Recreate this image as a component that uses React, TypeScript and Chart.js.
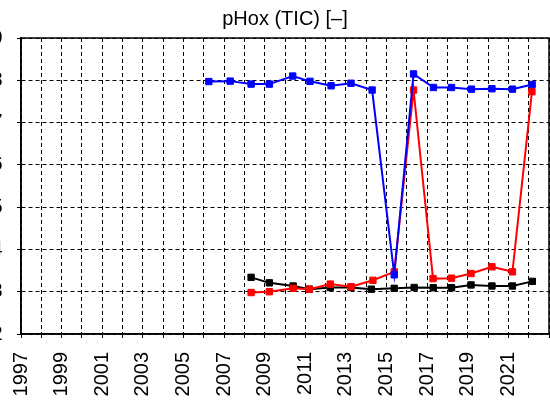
import React, { useEffect, useRef } from "react";
import { Chart, registerables } from "chart.js";

Chart.register(...registerables);

const TITLE = "pHox (TIC) [–]";

const blueYears = [2006.25, 2007.3, 2008.33, 2009.23, 2010.38, 2011.23, 2012.27, 2013.25, 2014.29, 2015.38, 2016.33, 2017.31, 2018.2, 2019.18, 2020.19, 2021.2, 2022.17];
const blueValues = [7.97, 7.98, 7.91, 7.91, 8.1, 7.975, 7.87, 7.93, 7.77, 3.4, 8.15, 7.83, 7.83, 7.79, 7.8, 7.79, 7.9];

const redYears = [2008.33, 2009.23, 2010.4, 2011.2, 2012.23, 2013.25, 2014.33, 2015.38, 2016.33, 2017.29, 2018.2, 2019.16, 2020.19, 2021.2, 2022.16];
const redValues = [2.98, 3.0, 3.08, 3.06, 3.18, 3.12, 3.27, 3.47, 7.77, 3.31, 3.32, 3.43, 3.59, 3.47, 7.73];

const blackYears = [2008.33, 2009.23, 2010.4, 2011.2, 2012.23, 2013.25, 2014.25, 2015.38, 2016.36, 2017.3, 2018.2, 2019.16, 2020.19, 2021.2, 2022.18];
const blackValues = [3.34, 3.21, 3.135, 3.06, 3.1, 3.1, 3.06, 3.08, 3.1, 3.095, 3.095, 3.16, 3.135, 3.135, 3.245];

const xTickLabels = [1997, 1999, 2001, 2003, 2005, 2007, 2009, 2011, 2013, 2015, 2017, 2019, 2021];

const X_MIN = 1997;
const X_MAX = 2023;
const Y_MIN = 2;
const Y_MAX = 9;

const CANVAS_OFFSET = -19;
const FONT = "Arial, 'Liberation Sans', sans-serif";

function pts(xs: number[], ys: number[]) {
  return xs.map((x, i) => ({ x, y: ys[i] }));
}

function ds(label: string, xs: number[], ys: number[], color: string) {
  return {
    label,
    data: pts(xs, ys),
    borderColor: color,
    backgroundColor: color,
    borderWidth: 2,
    pointStyle: "rect" as const,
    pointRadius: 4.5,
    pointBorderWidth: 1,
    pointBorderColor: color,
    pointBackgroundColor: color,
    tension: 0,
  };
}

const frame = {
  id: "frame",
  afterDraw(chart: any) {
    const { ctx, chartArea } = chart;
    ctx.save();
    ctx.strokeStyle = "#000";
    ctx.lineWidth = 1.5;
    ctx.setLineDash([]);
    ctx.strokeRect(chartArea.left, chartArea.top, chartArea.right - chartArea.left, chartArea.bottom - chartArea.top);
    ctx.restore();
  },
};

export default function App() {
  const ref = useRef<HTMLCanvasElement>(null);
  useEffect(() => {
    if (!ref.current) return;
    const chart = new Chart(ref.current, {
      type: "line",
      data: {
        datasets: [
          ds("blue", blueYears, blueValues, "#0000ff"),
          ds("red", redYears, redValues, "#ff0000"),
          ds("black", blackYears, blackValues, "#000000"),
        ],
      },
      options: {
        animation: false,
        responsive: false,
        layout: { padding: { left: 0, right: 32, top: 0, bottom: 0 } },
        plugins: {
          legend: { display: false },
          tooltip: { enabled: false },
          title: {
            display: true,
            text: TITLE,
            color: "#000",
            fullSize: false,
            font: { family: FONT, size: 20, weight: "normal" },
            padding: { top: 7, bottom: 7 },
          },
        },
        scales: {
          x: {
            type: "linear",
            min: X_MIN,
            max: X_MAX,
            afterFit: (s: any) => {
              s.height = 66;
              s.paddingLeft = 0;
              s.paddingRight = 0;
            },
            ticks: {
              stepSize: 1,
              autoSkip: false,
              minRotation: 90,
              maxRotation: 90,
              padding: 14,
              color: "#000",
              font: { family: FONT, size: 20 },
              callback: (v: any) => {
                const n = Number(v);
                return xTickLabels.includes(n) ? String(n) : "";
              },
            },
            grid: {
              color: "#000",
              lineWidth: 1,
              tickLength: 4,
              tickColor: "#000",
              tickWidth: 1,
              tickBorderDash: [],
            },
            border: { display: true, color: "#000", width: 1.5, dash: [4, 3] },
          },
          y: {
            type: "linear",
            min: Y_MIN,
            max: Y_MAX,
            afterFit: (s: any) => {
              s.width = 40;
              s.paddingTop = 0;
              s.paddingBottom = 0;
            },
            ticks: {
              stepSize: 1,
              padding: 14.5,
              color: "#000",
              font: { family: FONT, size: 20 },
              callback: (v: any) => String(v),
            },
            grid: {
              color: "#000",
              lineWidth: 1,
              tickLength: 4,
              tickColor: "#000",
              tickWidth: 1,
              tickBorderDash: [],
            },
            border: { display: true, color: "#000", width: 1.5, dash: [4, 3] },
          },
        },
      },
      plugins: [frame],
    });
    return () => chart.destroy();
  }, []);

  return (
    <div
      style={{
        position: "fixed",
        left: 0,
        top: 0,
        width: 550,
        height: 400,
        overflow: "hidden",
        background: "#fff",
      }}
    >
      <canvas
        ref={ref}
        width={600}
        height={400}
        style={{ position: "absolute", left: CANVAS_OFFSET, top: 0, width: 600, height: 400 }}
      />
    </div>
  );
}
